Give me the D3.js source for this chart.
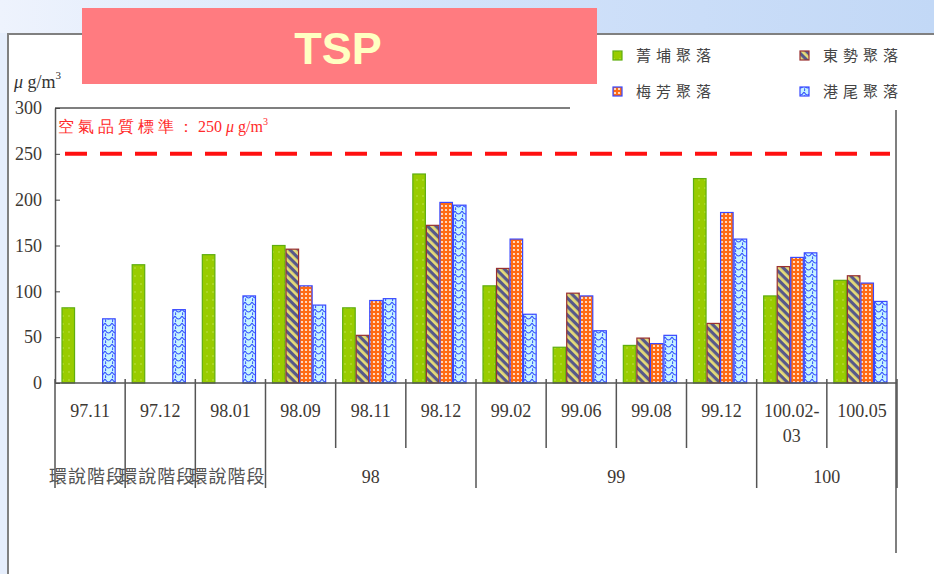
<!DOCTYPE html>
<html>
<head>
<meta charset="utf-8">
<script src="https://cdn.jsdelivr.net/npm/d3@7/dist/d3.min.js"></script>
<style>
  html, body { margin: 0; padding: 0; background: #fff; }
  svg { display: block; }
</style>
</head>
<body>
<script>
//chart data
var categories = ["97.11", "97.12", "98.01", "98.09", "98.11", "98.12", "99.02", "99.06", "99.08", "99.12", "100.02-03", "100.05"];
var seriesNames = ["菁埔聚落", "東勢聚落", "梅芳聚落", "港尾聚落"];
var jingpu  = [82, 129, 140, 150, 82, 228, 106, 39, 41, 223, 95, 112];
var dongshi = [null, null, null, 146, 52, 172, 125, 98, 49, 65, 127, 117];
var meifang = [null, null, null, 106, 90, 197, 157, 95, 43, 186, 137, 109];
var gangwei = [70, 80, 95, 85, 92, 194, 75, 57, 52, 157, 142, 89];
var groupLabels = ["環說階段", "環說階段", "環說階段", "98", "99", "100"];
var groupSpans = [1, 1, 1, 3, 4, 2];
var yTicks = [0, 50, 100, 150, 200, 250, 300];
var standardValue = 250;

var width = 934, height = 574;

var svg = d3.select("body").append("svg")
    .attr("width", width)
    .attr("height", height);

var defs = svg.append("defs");

//slide background gradient
var grad = defs.append("linearGradient").attr("id", "bgGrad")
    .attr("x1", "0").attr("x2", "1").attr("y1", "0").attr("y2", "0");
grad.append("stop").attr("offset", "0").attr("stop-color", "#eef3fd");
grad.append("stop").attr("offset", "0.5").attr("stop-color", "#d2e2fa");
grad.append("stop").attr("offset", "1").attr("stop-color", "#c2d8f6");

//bar fill patterns
var pGreen = defs.append("pattern").attr("id", "pGreen")
    .attr("patternUnits", "userSpaceOnUse").attr("width", 6).attr("height", 8);
pGreen.append("rect").attr("width", 6).attr("height", 8).attr("fill", "#99cc00");
pGreen.append("circle").attr("cx", 3).attr("cy", 4).attr("r", 0.7).attr("fill", "#c8e860");

var pHatch = defs.append("pattern").attr("id", "pHatch")
    .attr("patternUnits", "userSpaceOnUse").attr("width", 6).attr("height", 6)
    .attr("patternTransform", "rotate(-45)");
pHatch.append("rect").attr("width", 6).attr("height", 6).attr("fill", "#56588a");
pHatch.append("rect").attr("width", 2.8).attr("height", 6).attr("fill", "#e6dc78");

var pDots = defs.append("pattern").attr("id", "pDots")
    .attr("patternUnits", "userSpaceOnUse").attr("width", 4).attr("height", 4);
pDots.append("rect").attr("width", 4).attr("height", 4).attr("fill", "#ff6a12");
pDots.append("circle").attr("cx", 2).attr("cy", 2).attr("r", 1.1).attr("fill", "#fff3e8");

var pWave = defs.append("pattern").attr("id", "pWave")
    .attr("patternUnits", "userSpaceOnUse").attr("width", 7).attr("height", 7);
pWave.append("rect").attr("width", 7).attr("height", 7).attr("fill", "#c6f4ff");
pWave.append("path").attr("d", "M0,1 Q3.5,7 7,1 M0,4.5 Q1.5,6 0,7")
    .attr("fill", "none").attr("stroke", "#3652ff").attr("stroke-width", 1.1);

var fills = ["url(#pGreen)", "url(#pHatch)", "url(#pDots)", "url(#pWave)"];
var strokes = ["#5fae10", "#9a3030", "#3848ff", "#3848ff"];

//background
svg.append("rect").attr("width", width).attr("height", 40).attr("fill", "url(#bgGrad)");
svg.append("rect").attr("x", 0).attr("y", 33).attr("width", 9).attr("height", height - 33).attr("fill", "#e6eefc");
svg.append("rect").attr("x", 8).attr("y", 34).attr("width", width).attr("height", height)
    .attr("fill", "#fff").attr("stroke", "#808080").attr("stroke-width", 2);

//title box
svg.append("rect").attr("x", 82).attr("y", 8).attr("width", 515).attr("height", 76).attr("fill", "#ff7b80");
svg.append("text").attr("x", 338).attr("y", 64)
    .attr("text-anchor", "middle")
    .style("font-family", "'Liberation Sans', Arial, sans-serif")
    .style("font-weight", "bold").style("font-size", "45px")
    .attr("fill", "#ffffc2").text("TSP");

//scales
var plotLeft = 55, plotRight = 897, plotTop = 108, plotBottom = 383;

var x = d3.scaleBand().domain(categories).range([plotLeft, plotRight]);
var xInner = d3.scaleBand().domain(d3.range(seriesNames.length))
    .range([7, x.bandwidth() - 9]).padding(0);
var y = d3.scaleLinear().domain([0, 300]).range([plotBottom, plotTop]);

var serif = "'Liberation Serif', 'Times New Roman', serif";

//frame lines
svg.append("line").attr("x1", plotLeft).attr("x2", 570).attr("y1", plotTop).attr("y2", plotTop)
    .attr("stroke", "#555").attr("stroke-width", 1.5);
svg.append("line").attr("x1", 896).attr("x2", 896).attr("y1", 110).attr("y2", 553)
    .attr("stroke", "#555").attr("stroke-width", 1.5);

//y axis
var yAxis = d3.axisLeft(y).tickValues(yTicks).tickSize(-5).tickPadding(13).tickSizeOuter(0);
var yg = svg.append("g").attr("transform", "translate(" + plotLeft + ",0)").call(yAxis);
yg.select(".domain").attr("stroke", "#555").attr("stroke-width", 1.5);
yg.selectAll(".tick line").attr("stroke", "#444");
yg.selectAll(".tick text").style("font-family", serif).style("font-size", "18px").attr("fill", "#3d3833");

//unit label
var unit = svg.append("text").attr("x", 14).attr("y", 88)
    .style("font-family", serif).style("font-size", "18px").attr("fill", "#333");
unit.append("tspan").style("font-style", "italic").text("μ");
unit.append("tspan").text(" g/m");
unit.append("tspan").attr("dy", -9).style("font-size", "11px").text("3");

//air quality standard line
svg.append("line").attr("x1", 65).attr("x2", 890)
    .attr("y1", y(standardValue)).attr("y2", y(standardValue))
    .attr("stroke", "#ff1010").attr("stroke-width", 4).attr("stroke-dasharray", "22,13");

var std = svg.append("text").attr("x", 58).attr("y", 132)
    .style("font-family", serif).style("font-size", "16px").attr("fill", "#ff2a2a");
std.append("tspan").style("letter-spacing", "4px").text("空氣品質標準：");
std.append("tspan").text("250 ");
std.append("tspan").style("font-style", "italic").text("μ");
std.append("tspan").text(" g/m");
std.append("tspan").attr("dy", -7).style("font-size", "10px").text("3");

//bars
var seriesData = [jingpu, dongshi, meifang, gangwei];
seriesData.forEach(function(vals, s){
    var rows = categories.map(function(c, i){ return {cat: c, v: vals[i]}; })
        .filter(function(d){ return d.v != null; });
    svg.append("g").selectAll("rect")
        .data(rows)
        .enter()
        .append("rect")
        .attr("x", function(d){ return x(d.cat) + xInner(s); })
        .attr("width", xInner.bandwidth() - 1)
        .attr("y", function(d){ return y(d.v); })
        .attr("height", function(d){ return y(0) - y(d.v); })
        .attr("fill", fills[s])
        .attr("stroke", strokes[s])
        .attr("stroke-width", 1.2);
});

//x axis line and category separators
svg.append("line").attr("x1", plotLeft).attr("x2", plotRight).attr("y1", plotBottom).attr("y2", plotBottom)
    .attr("stroke", "#555").attr("stroke-width", 1.5);

var groupEdges = [0];
groupSpans.forEach(function(s, i){ groupEdges.push(groupEdges[i] + s); });

var sepIdx = d3.range(categories.length + 1);
svg.append("g").selectAll("line")
    .data(sepIdx)
    .enter()
    .append("line")
    .attr("x1", function(i){ return i < categories.length ? x(categories[i]) : plotRight; })
    .attr("x2", function(i){ return i < categories.length ? x(categories[i]) : plotRight; })
    .attr("y1", plotBottom - 4)
    .attr("y2", function(i){ return groupEdges.indexOf(i) >= 0 ? 488 : 448; })
    .attr("stroke", "#555").attr("stroke-width", 1.5);

//category labels
var catText = svg.append("g").selectAll("text")
    .data(categories)
    .enter()
    .append("text")
    .attr("x", function(d){ return x(d) + x.bandwidth() / 2; })
    .attr("y", 417)
    .attr("text-anchor", "middle")
    .style("font-family", serif).style("font-size", "18px").attr("fill", "#3d3833");
catText.each(function(d){
    var parts = d.indexOf("-") > 0 ? [d.slice(0, d.indexOf("-") + 1), d.slice(d.indexOf("-") + 1)] : [d];
    var t = d3.select(this);
    parts.forEach(function(p, k){
        t.append("tspan").attr("x", x(d) + x.bandwidth() / 2).attr("dy", k === 0 ? 0 : 25).text(p);
    });
});

//group labels
svg.append("g").selectAll("text")
    .data(groupLabels)
    .enter()
    .append("text")
    .attr("x", function(d, i){
        var a = x(categories[groupEdges[i]]);
        var b = groupEdges[i + 1] < categories.length ? x(categories[groupEdges[i + 1]]) : plotRight;
        return (a + b) / 2 - (i < 3 ? 3 : 0);
    })
    .attr("y", 483)
    .attr("text-anchor", "middle")
    .style("font-family", function(d, i){ return i < 3 ? "'Noto Sans CJK TC', sans-serif" : serif; })
    .style("font-size", function(d, i){ return i < 3 ? "18px" : "18px"; })
    .style("letter-spacing", function(d, i){ return i < 3 ? "1px" : "0px"; })
    .attr("fill", function(d, i){ return i < 3 ? "#555" : "#3d3833"; })
    .text(function(d){ return d; });

//legend
var legendPos = [[617, 55], [804, 55], [617, 91], [804, 91]];
var legend = svg.append("g").selectAll("g")
    .data(seriesNames)
    .enter()
    .append("g")
    .attr("transform", function(d, i){ return "translate(" + legendPos[i][0] + "," + legendPos[i][1] + ")"; });
legend.append("rect").attr("x", -4).attr("y", -4).attr("width", 9).attr("height", 9)
    .attr("fill", function(d, i){ return fills[i]; })
    .attr("stroke", function(d, i){ return strokes[i]; }).attr("stroke-width", 1.2);
legend.append("text").attr("x", 19).attr("y", 6)
    .style("font-family", "'Noto Sans CJK TC', sans-serif").style("font-size", "15px")
    .style("letter-spacing", "5px").attr("fill", "#444")
    .text(function(d){ return d; });
</script>
</body>
</html>
